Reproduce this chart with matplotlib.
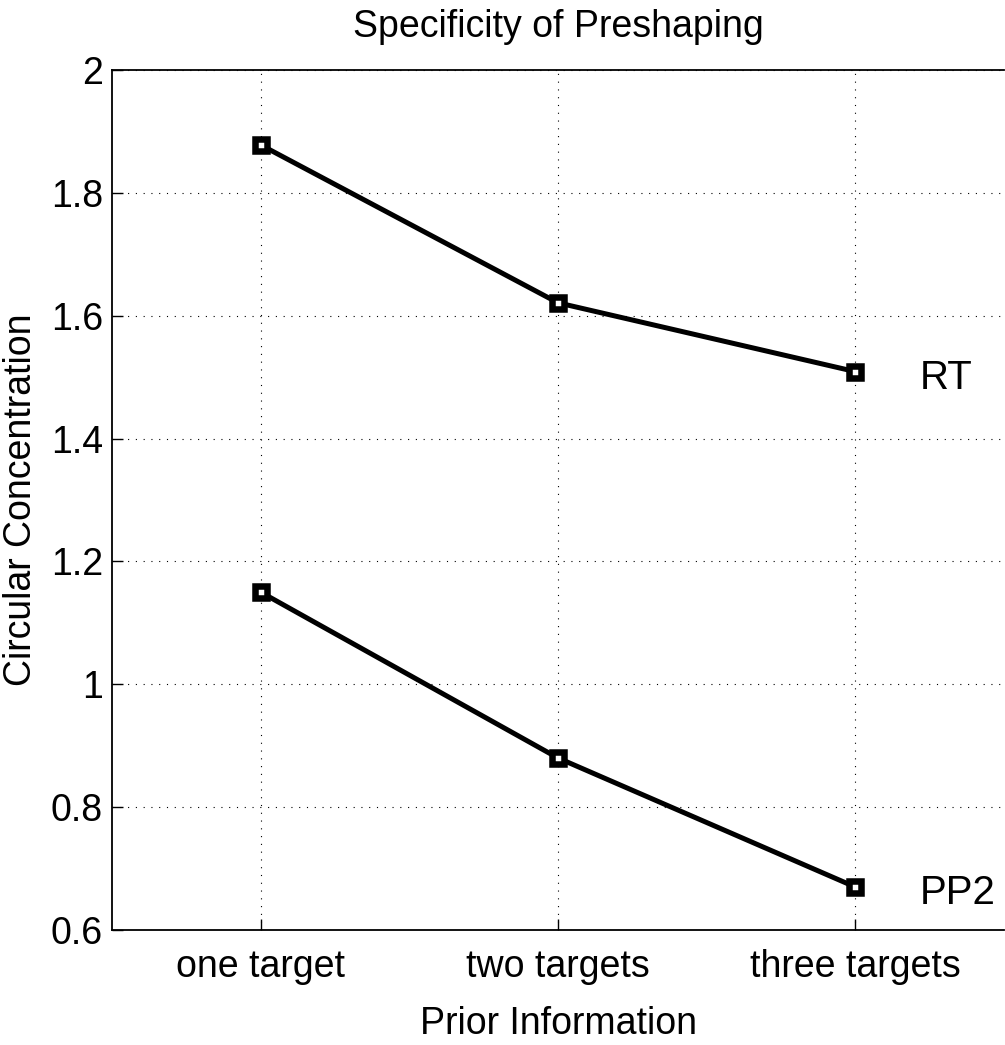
import matplotlib
matplotlib.use("Agg")
import matplotlib.pyplot as plt

plt.rcParams['font.family'] = ['Liberation Sans', 'DejaVu Sans']

categories = ["one target", "two targets", "three targets"]
positions = [1, 2, 3]
rt_values = [1.878, 1.621, 1.509]
pp2_values = [1.150, 0.880, 0.670]
yticks = [0.6, 0.8, 1.0, 1.2, 1.4, 1.6, 1.8, 2.0]
yticklabels = ["0.6", "0.8", "1", "1.2", "1.4", "1.6", "1.8", "2"]

fig = plt.figure(figsize=(10.05, 10.45), dpi=100)
ax = fig.add_axes([112 / 1005, 1 - 930 / 1045, (1004 - 112) / 1005, (930 - 70) / 1045])

for vals in (rt_values, pp2_values):
    ax.plot(positions, vals, color='black', linewidth=3.6, marker='s',
            markersize=8.2, markerfacecolor='white', markeredgecolor='black',
            markeredgewidth=4.7)

ax.text(3.215, rt_values[-1] - 0.01, "RT", fontsize=29, va='center', ha='left')
ax.text(3.215, pp2_values[-1] - 0.01, "PP2", fontsize=29, va='center', ha='left')

ax.set_xlim(0.5, 3.5)
ax.set_ylim(0.6, 2.0)
ax.set_xticks(positions)
ax.set_xticklabels(categories, fontsize=27)
ax.set_yticks(yticks)
ax.set_yticklabels(yticklabels, fontsize=27)
ax.tick_params(direction='in', length=8, width=1, pad=6.5)
ax.tick_params(axis='x', pad=14)
ax.grid(True, linestyle=(0, (1, 6)), color='black', linewidth=0.8)
for s in ax.spines.values():
    s.set_linewidth(1.3)
ax.spines['right'].set_visible(False)

ax.set_title("Specificity of Preshaping", fontsize=27, pad=23.5)
ax.set_xlabel("Prior Information", fontsize=27, labelpad=15)
ax.set_ylabel("Circular Concentration", fontsize=27, labelpad=8.5)

fig.savefig("out.png", dpi=100)
